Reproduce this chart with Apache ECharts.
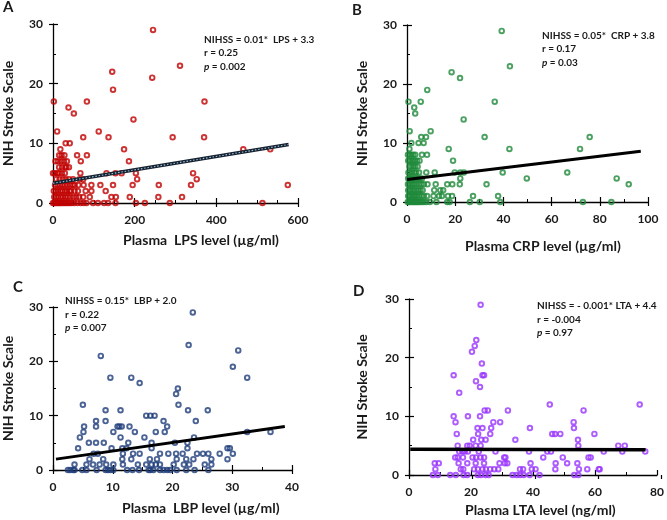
<!DOCTYPE html>
<html><head><meta charset="utf-8">
<script src="https://cdn.jsdelivr.net/npm/echarts/dist/echarts.min.js"></script>
<style>html,body{margin:0;padding:0;background:#fff}#c{width:667px;height:520px}</style>
</head><body><div id="c"></div>
<script>
// ---------- DATA ----------
const lpsData = [
 [0,0],[3,0],[6,0],[9,0],[12,0],[15,0],[18,0],[21,0],[25,0],[29,0],[33,0],[37,0],[41,0],[46,0],[52,0],[60,0],[68,0],[75,0],[82,0],[98,0],[110,0],[125,0],[135,0],[153,0],[203,0],[225,0],[286,0],[513,0],
 [3,1],[8,1],[13,1],[19,1],[24,1],[30,1],[36,1],[42,1],[50,1],[57,1],[64,1],[74,1],[90,1],[143,1],[154,1],[188,1],[258,1],[316,1],
 [2,2],[7,2],[12,2],[18,2],[23,2],[29,2],[34,2],[40,2],[44,2],[53,2],[61,2],[80,2],[94,2],[129,2],
 [5,3],[11,3],[17,3],[23,3],[29,3],[35,3],[42,3],[48,3],[53,3],[62,3],[75,3],[94,3],[116,3],[147,3],[195,3],[259,3],[338,3],[575,3],
 [8,4],[16,4],[24,4],[31,4],[39,4],[49,4],[65,4],[74,4],[206,4],[352,4],
 [0,5],[4,5],[10,5],[15,5],[22,5],[29,5],[67,5],[131,5],[153,5],[168,5],[203,5],[343,5],
 [15,6],[22,6],[30,6],[33,6],[39,6],
 [6,7],[12,7],[20,7],[27,7],[34,7],[68,7],[186,7],
 [15,8],[21,8],[28,8],[59,8],[83,8],
 [18,9],[174,9],[466,9],[532,9],
 [31,10],[41,10],
 [74,11],[136,11],[293,11],[370,11],
 [10,12],[112,12],
 [197,14],[51,15],[38,16],[2,17],[83,17],[371,17],[147,19],[243,21],[145,22],[311,23],[245,29]
];
const crpData = [
 [0.3,0],[0.8,0],[1.3,0],[1.8,0],[2.3,0],[2.8,0],[3.3,0],[3.8,0],[4.3,0],[4.8,0],[5.5,0],[6.2,0],[7,0],[8,0],[9.5,0],[12.2,0],[16.7,0],[17.7,0],[26.1,0],[30.2,0],[38.7,0],[73,0],[84.8,0],
 [0.5,1],[1,1],[1.6,1],[2.2,1],[2.9,1],[3.5,1],[4.2,1],[5,1],[6,1],[7,1],[8.3,1],[11,1],[13.3,1],[14.5,1],[17,1],[18.7,1],[27.4,1],[37.8,1],
 [0.5,2],[1.1,2],[1.7,2],[2.5,2],[3.1,2],[4,2],[4.8,2],[5.6,2],[6.5,2],[11.3,2],[13.8,2],[15,2],
 [0.4,3],[1,3],[1.7,3],[2.4,3],[3.1,3],[4,3],[5,3],[6,3],[7,3],[8.5,3],[11.9,3],[16.7,3],[18.8,3],[21.9,3],[33,3],[92,3],
 [0.5,4],[1.1,4],[1.7,4],[2.4,4],[3.2,4],[3.8,4],[4.5,4],[5.3,4],[6.2,4],[22.1,4],[49.7,4],[87,4],
 [0.6,5],[1.3,5],[2.1,5],[3,5],[3.8,5],[5,5],[8,5],[11.5,5],[19.8,5],[22.1,5],[23.6,5],[39.7,5],[66.5,5],
 [1,6],[1.8,6],[2.6,6],[3.4,6],[4.4,6],
 [0.5,7],[1.1,7],[1.8,7],[2.6,7],[3.3,7],[4.2,7],[5.2,7],[19.1,7],
 [0.4,8],[1.1,8],[1.8,8],[2.6,8],[3.4,8],[6.2,8],[8.3,8],
 [1,9],[17.3,9],[42.5,9],[71.8,9],
 [1.8,10],[4.8,10],[6.9,10],
 [5.9,11],[7.9,11],[32.2,11],[75.8,11],
 [1.1,12],[9.8,12],
 [23.5,14],[3.4,15],[3.0,16],[0.6,17],[5.7,17],[36.4,17],[8.4,19],[22,21],[18.5,22],[42.7,23],[39.3,29]
];
const lbpData = [
 [2.5,0],[2.9,0],[3.4,0],[3.6,0],[4.9,0],[5.6,0],[7.3,0],[8.8,0],[9.2,0],[9.6,0],[10.1,0],[12.4,0],[13.3,0],[14.4,0],[16,0],[16.3,0],[16.8,0],[17.9,0],[18.5,0],[19.1,0],[19.6,0],[20.7,0],[22.3,0],[23.7,0],[26,0],
 [3.6,1],[5.6,1],[6.7,1],[7.8,1],[8.9,1],[10.1,1],[11.7,1],[14.2,1],[15.6,1],[16.5,1],[17.2,1],[17.9,1],[20.2,1],[21.9,1],[22.8,1],[25.4,1],[26.5,1],
 [6.1,2],[8.4,2],[11.6,2],[13.1,2],[16.2,2],[17.4,2],[20.7,2],[22.3,2],[23.5,2],[26.5,2],[29.2,2],
 [6.8,3],[7.5,3],[11.7,3],[13.4,3],[14.5,3],[17.9,3],[19.3,3],[20.6,3],[21.7,3],[24.1,3],[25.1,3],[26,3],[27.9,3],[30.1,3],
 [4.2,4],[9.8,4],[11.6,4],[12.3,4],[16.5,4],[22.5,4],[29.2,4],[29.6,4],
 [6,5],[7.2,5],[8.5,5],[12.6,5],[16.5,5],[20.4,5],[22.5,5],
 [4.5,6],[11.3,6],[15.3,6],[23.6,6],
 [5.1,7],[10.1,7],[13.7,7],[17.2,7],[18.7,7],[32.5,7],[36.4,7],
 [5.2,8],[7.2,8],[10.8,8],[11.1,8],[11.5,8],[12.8,8],[19.1,8],
 [7.2,9],[8.8,9],[18.5,9],[23.9,9],
 [15.6,10],[16.3,10],[17,10],
 [8.8,11],[11.3,11],[22.6,11],[25.9,11],
 [5,12],[21,12],
 [20.6,14],[20.9,15],[14.5,16],[9.6,17],[13.1,17],[32.5,17],[30.1,19],[8,21],[31,22],[22.7,23],[23.4,29]
];
const ltaData = [
 [7.7,0],[9.3,0],[13.3,0],[15.1,0],[17.6,0],[18.8,0],[22.2,0],[23.2,0],[24.7,0],[25.7,0],[33.4,0],[34.7,0],[35.8,0],[37,0],[38.9,0],[42.1,0],[53.3,0],[54.6,0],
 [8.5,1],[16.7,1],[17.5,1],[21,1],[22.2,1],[23.7,1],[24.8,1],[26.2,1],[27.5,1],[28.8,1],[35.8,1],[36.8,1],[39.6,1],[40.8,1],[47.2,1],[54.8,1],[57.5,1],[61.2,1],[61.5,1],
 [8.3,2],[9.6,2],[16,2],[18.8,2],[21.5,2],[24.2,2],[29.2,2],[30.9,2],[31.7,2],[39.2,2],[47.3,2],[51,2],[54.3,2],
 [14.9,3],[15.7,3],[17.4,3],[20.5,3],[21.6,3],[23.1,3],[24.2,3],[30.7,3],[31.1,3],[43.3,3],[49.6,3],[57.9,3],[58.6,3],
 [16.2,4],[17.2,4],[18,4],[19,4],[22.5,4],[27.9,4],[38.7,4],[44.6,4],[45.8,4],[62.8,4],[68.8,4],[76.2,4],
 [15.7,5],[18.8,5],[19.6,5],[21.5,5],[23.1,5],[54.6,5],[67.5,5],[69.6,5],
 [20.7,6],[23.3,6],[24.7,6],[34.3,6],[54.5,6],
 [15.4,7],[22.3,7],[26.2,7],[46.2,7],[47.1,7],[48.8,7],[59.8,7],
 [22.1,8],[23.7,8],[26.5,8],[39,8],[53.2,8],
 [15,9],[27.2,9],[29.4,9],[53.1,9],
 [14.4,10],[19,10],[22.9,10],
 [24.4,11],[25.4,11],[31.9,11],[56.3,11],
 [45.4,12],[74.4,12],
 [16.2,14],[22.9,15],[21.6,16],[14.4,17],[23.7,17],[24.2,17],[23.5,19],[20.3,21],[21.2,22],[21.7,23],[23.1,29]
];
const lpsFit = [[0,3.3],[577,9.8]];
const crpFit = [[0,3.8],[97,8.6]];
const lbpFit = [[0.5,2.0],[38.8,8.0]];
const ltaFit = [[0.4,4.4],[76.3,4.3]];
const panelLetters = ['A','B','C','D'];
const xTitles = ['Plasma  LPS level (µg/ml)','Plasma CRP level (µg/ml)','Plasma  LBP level (µg/ml)','Plasma LTA level (ng/ml)'];
const yTitle = 'NIH Stroke Scale';
const equations = ['NIHSS = 0.01*  LPS + 3.3','NIHSS = 0.05*  CRP + 3.8','NIHSS = 0.15*  LBP + 2.0','NIHSS = - 0.001* LTA + 4.4'];
const rValues = ['r = 0.25','r = 0.17','r = 0.22','r = -0.004'];
const pValues = ['0.002','0.03','0.007','0.97'];
const xMax = [600,100,40,80];
const xInterval = [200,20,10,20];

// ---------- LAYOUT ----------
const FONT = 'Lato';
const grids = [
  {left:53, top:24, width:245, height:179},
  {left:407, top:25, width:241, height:177},
  {left:53, top:307, width:239, height:163},
  {left:409, top:299, width:252, height:176}
];
const minorSplit = [4,2,2,2];
const colors = ['#C00000','#1F8A3B','#1F3D7A','#9933FF'];
const datasets = [lpsData, crpData, lbpData, ltaData];
const fits = [lpsFit, crpFit, lbpFit, ltaFit];
const yNameGap = [38,38,38,40];
const xTitleLeftTop = [[123,233],[465,239],[122,501],[465,503]];
const letterLeftTop = [[3,0],[352,3],[13,280],[353,284]];
const annLeftTop = [[204,33],[542,29],[65,294.5],[537,299.5]];

const allGrids = grids.concat(grids);
const xAxes = [], yAxes = [], series = [], titles = [];
grids.forEach((g, i) => {
  xAxes.push({gridIndex:i, type:'value', min:0, max:xMax[i], interval:xInterval[i],
    axisLine:{show:true, onZero:false, lineStyle:{color:'#000', width:1.3}},
    axisTick:{show:true, inside:true, length:5, lineStyle:{color:'#000', width:1.2}},
    minorTick:{show:true, splitNumber:minorSplit[i], length:3, lineStyle:{color:'#000', width:1}},
    splitLine:{show:false},
    axisLabel:{margin:11, color:'#1a1a1a', fontFamily:FONT, fontWeight:'bold', fontSize:12}});
  yAxes.push({gridIndex:i, type:'value', min:0, max:30, interval:10,
    name:yTitle, nameLocation:'middle', nameRotate:90, nameGap:yNameGap[i],
    nameTextStyle:{fontFamily:FONT, fontWeight:'bold', fontSize:14, color:'#1a1a1a'},
    axisLine:{show:true, onZero:false, lineStyle:{color:'#000', width:1.3}},
    axisTick:{show:true, inside:true, length:5, lineStyle:{color:'#000', width:1.2}},
    minorTick:{show:true, splitNumber:2, length:3, lineStyle:{color:'#000', width:1}},
    splitLine:{show:false},
    axisLabel:{margin:10, color:'#1a1a1a', fontFamily:FONT, fontWeight:'bold', fontSize:12}});

  const f = fits[i];
  const mlData = [[{coord:f[0], lineStyle:{color:i===0?'#17222e':'#000', width:i===1||i===2?3:3.6, type:'solid'}}, {coord:f[1]}]];
  if (i === 0) {
    mlData.push([{coord:f[0], lineStyle:{color:'#9cc3e6', width:1.1, type:[1.5,1.8]}}, {coord:f[1]}]);
  }
  series.push({type:'scatter', xAxisIndex:i, yAxisIndex:i, data:datasets[i],
    symbol:'circle', symbolSize:4.6,
    itemStyle:{color:'rgba(255,255,255,0)', borderColor:colors[i], borderWidth:1.9},
    markLine:{silent:true, animation:false, symbol:['none','none'], label:{show:false},
      emphasis:{disabled:true}, lineStyle:{color:'#000', width:3, type:'solid'}, data:mlData}});

  titles.push({text:panelLetters[i], left:letterLeftTop[i][0], top:letterLeftTop[i][1], padding:0,
    textStyle:{fontFamily:FONT, fontWeight:'bold', fontSize:15, color:'#1a1a1a'}});
  titles.push({text:xTitles[i], left:xTitleLeftTop[i][0], top:xTitleLeftTop[i][1], padding:0,
    textStyle:{fontFamily:FONT, fontWeight:'bold', fontSize:14, color:'#1a1a1a'}});
  titles.push({text:equations[i] + '\n' + rValues[i] + '\n{i|p} = ' + pValues[i],
    left:annLeftTop[i][0], top:annLeftTop[i][1], padding:0,
    textStyle:{fontFamily:FONT, fontWeight:'bold', fontSize:10, lineHeight:13.5, color:'#1a1a1a',
      rich:{i:{fontFamily:FONT, fontStyle:'italic', fontWeight:'bold', fontSize:10, lineHeight:13.5, color:'#1a1a1a'}}}});
});
// overlay grids (4..7) carrying the outward half of the major ticks
grids.forEach((g, i) => {
  xAxes.push({gridIndex:4+i, type:'value', min:0, max:xMax[i], interval:xInterval[i],
    axisLine:{show:false, onZero:false},
    axisTick:{show:true, inside:false, length:4, lineStyle:{color:'#000', width:1.2}},
    axisLabel:{show:false}, splitLine:{show:false}});
  yAxes.push({gridIndex:4+i, type:'value', min:0, max:30, interval:10,
    axisLine:{show:false, onZero:false},
    axisTick:{show:true, inside:false, length:4, lineStyle:{color:'#000', width:1.2}},
    axisLabel:{show:false}, splitLine:{show:false}});
});

const chart = echarts.init(document.getElementById('c'));
chart.setOption({
  animation:false,
  title: titles,
  grid: allGrids,
  xAxis: xAxes, yAxis: yAxes, series: series
});
</script></body></html>
